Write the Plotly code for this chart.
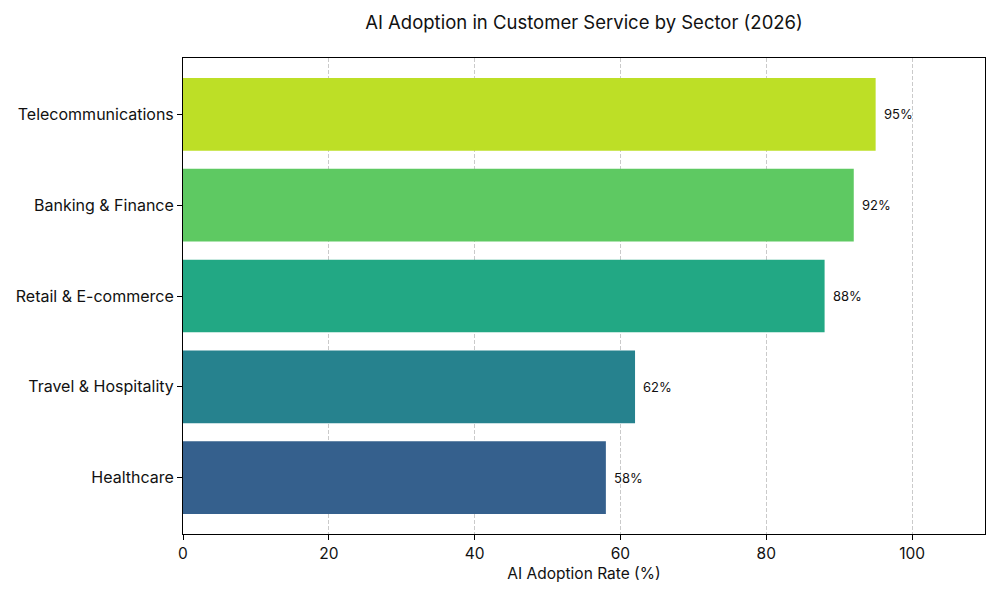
import plotly.graph_objects as go

sectors = ["Healthcare", "Travel & Hospitality", "Retail & E-commerce", "Banking & Finance", "Telecommunications"]
adoption = [58, 62, 88, 92, 95]
labels = ["58%", "62%", "88%", "92%", "95%"]
colors = ["#35608d", "#26828e", "#22a884", "#5ec962", "#bddf26"]

FONT = "Inter"

fig = go.Figure()
fig.add_trace(go.Bar(
    y=sectors, x=adoption, orientation="h",
    marker=dict(color=colors, line=dict(width=0)),
    width=0.8, showlegend=False, hoverinfo="x+y",
))

for s, v, t in zip(sectors, adoption, labels):
    fig.add_annotation(x=v, y=s, text=t, showarrow=False, xanchor="left",
                       xshift=6, font=dict(family=FONT, size=13, color="#111"))

fig.update_layout(
    width=1000, height=600,
    margin=dict(l=183, r=15, t=58, b=66),
    plot_bgcolor="white", paper_bgcolor="white",
    title=dict(text="AI Adoption in Customer Service by Sector (2026)",
               x=0.584, xanchor="center", y=0.962, yanchor="middle",
               font=dict(family=FONT, size=18.5, color="#111")),
    font=dict(family=FONT, color="#111"),
    xaxis=dict(range=[0, 110], tickvals=[0, 20, 40, 60, 80, 100],
               showgrid=True, gridcolor="rgba(180,180,180,0.7)", griddash="4px,2px", gridwidth=1,
               layer="above traces",
               showline=True, linecolor="black", linewidth=1, mirror=True,
               ticks="outside", ticklen=5, tickcolor="black",
               tickfont=dict(family=FONT, size=15.5),
               title=dict(text="AI Adoption Rate (%)", font=dict(family=FONT, size=15.5), standoff=6),
               zeroline=False),
    yaxis=dict(range=[-0.62, 4.62], showgrid=False,
               showline=True, linecolor="black", linewidth=1, mirror=True,
               ticks="outside", ticklen=5, tickcolor="black",
               tickfont=dict(family=FONT, size=16)),
)

fig.write_html("out.html")
